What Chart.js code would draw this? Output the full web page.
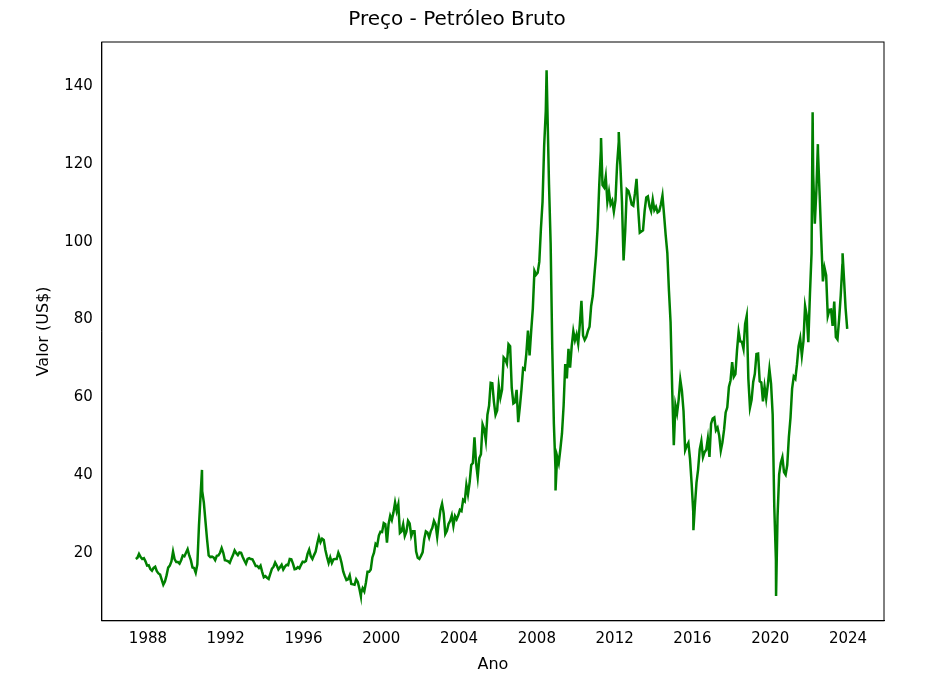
<!DOCTYPE html>
<html><head><meta charset="utf-8">
<script src="https://cdn.jsdelivr.net/npm/chart.js@4/dist/chart.umd.min.js"></script>
<style>html,body{margin:0;background:#fff}#w{width:931px;height:686px}</style>
</head><body><div id="w"><canvas id="c"></canvas></div>
<script>
const startYear = 1987, startMonth = 4; // May 1987
const monthly = [
18.6,18.9,19.9,19.1,18.6,18.8,18.0,16.9,
17.0,16.0,15.6,16.3,16.6,15.5,14.9,14.6,13.3,12.0,12.8,14.4,
16.4,16.9,18.0,20.5,18.5,17.8,17.8,17.4,18.3,19.5,19.3,20.2,
21.1,19.5,18.3,16.4,16.3,15.1,17.2,27.2,34.9,36.0,33.1,28.3,
23.6,19.5,19.1,19.2,19.0,18.3,19.4,19.5,20.2,21.4,20.2,18.3,
18.2,18.0,17.6,18.7,19.6,20.8,20.1,19.6,20.3,20.2,19.1,18.2,
17.4,18.6,18.8,18.6,18.5,17.7,16.8,16.8,16.3,16.9,15.3,13.9,
14.2,13.8,13.5,14.8,16.1,16.6,17.7,16.9,15.9,16.5,17.1,15.9,
16.6,17.1,17.0,18.6,18.5,17.4,16.0,16.1,16.5,16.2,17.1,17.9,
17.8,18.1,19.9,21.0,19.3,18.6,19.6,20.5,22.6,24.3,22.9,23.8,
23.5,20.9,19.1,17.6,19.0,17.6,18.5,18.6,18.6,20.2,19.2,17.6,
15.4,14.2,13.2,13.4,14.4,12.2,12.1,12.0,13.4,12.7,11.0,9.8,
11.1,10.3,12.5,15.3,15.3,15.9,19.0,20.2,22.5,22.1,24.6,25.6,
25.5,27.8,27.5,22.8,27.6,29.7,28.6,30.5,33.1,30.9,32.6,25.3,
25.7,27.5,24.5,25.6,28.4,27.7,24.5,25.7,25.7,20.5,18.9,18.6,
19.4,20.3,23.7,25.7,25.4,24.1,25.7,26.6,28.4,27.5,24.3,28.0,
31.2,32.8,30.3,25.0,25.8,27.6,28.4,29.8,27.1,29.6,28.8,29.8,
31.2,30.9,33.8,33.4,37.6,35.2,38.2,42.7,43.2,49.8,43.1,39.6,
44.5,45.5,53.1,51.9,49.0,55.6,57.9,63.8,63.7,58.9,55.6,56.7,
63.0,60.0,62.0,70.3,69.8,68.7,73.7,73.2,62.5,58.5,58.8,62.0,
53.7,57.6,62.1,67.5,67.2,71.3,77.2,70.8,77.1,82.8,92.5,91.5,
92.0,94.8,103.3,110.2,124.6,133.5,134.0,114.6,99.6,72.8,53.2,41.6,
44.9,43.2,46.8,50.8,57.9,68.6,64.9,72.5,67.7,73.2,77.0,74.7,
76.2,73.8,78.8,84.8,75.9,74.8,75.6,77.1,78.2,83.5,86.1,91.4,
96.5,103.7,114.6,123.3,114.5,113.9,116.7,110.2,112.8,109.6,110.5,107.7,
110.6,119.7,125.5,119.8,110.3,95.2,102.6,113.4,113.0,111.5,109.5,109.2,
112.3,116.1,108.5,102.3,102.6,102.9,107.9,111.3,111.6,109.1,107.8,110.8,
108.1,108.9,107.5,107.8,109.5,111.8,106.8,101.6,97.1,87.4,79.4,62.3,
47.8,58.1,56.0,59.5,64.6,61.7,56.5,46.5,47.6,48.4,44.3,38.0,
30.7,32.2,38.2,41.6,46.7,48.8,44.7,46.0,46.6,49.5,44.8,53.3,
54.6,54.9,51.6,52.3,50.3,46.4,48.5,51.7,56.2,57.5,62.7,64.4,
69.1,65.3,66.0,72.1,76.9,74.4,74.3,72.5,78.9,81.0,64.8,57.4,
59.4,64.0,66.1,71.2,71.3,64.2,63.9,59.0,62.8,59.7,63.2,67.3,
63.6,55.7,32.0,18.4,29.4,40.3,43.2,44.7,40.9,40.2,42.7,49.9,
54.8,62.3,65.4,64.8,68.5,73.2,75.2,70.8,74.5,83.5,81.1,74.2,
86.5,97.1,117.3,104.6,113.3,122.7,111.9,100.5,89.8,93.3,91.4,80.9,
82.5,82.6,78.4,84.6,75.5,74.9,80.1,86.2,94.0,90.6,82.9,77.6
];
const extremeDates = [1990.78,1998.95,2008.50,2008.96,2011.30,2012.21,2016.05,2020.30,2022.18,2022.45,2023.72];
const extremeValues = [41.45,9.1,143.95,36.2,126.6,128.1,26.0,9.12,133.2,125.0,97.0];
const xTicks = [1988,1992,1996,2000,2004,2008,2012,2016,2020,2024];
const yTicks = [20,40,60,80,100,120,140];

let pts = monthly.map((v,i)=>({x: startYear + (startMonth + i + 0.5)/12, y: v}));
extremeDates.forEach((d,i)=>pts.push({x:d,y:extremeValues[i]}));
pts.sort((a,b)=>a.x-b.x);

const F = "'DejaVu Sans'";
new Chart(document.getElementById('c'),{
  type:'line',
  data:{datasets:[{data:pts,borderColor:'#008000',borderWidth:2.5,pointRadius:0,tension:0}]},
  options:{
    responsive:true,maintainAspectRatio:false,animation:false,
    layout:{padding:{top:2,right:47,left:30,bottom:8}},
    plugins:{legend:{display:false},tooltip:{enabled:false},
      title:{display:true,text:'Preço - Petróleo Bruto',color:'#000',font:{family:F,size:20,weight:'normal'},padding:{top:6,bottom:10}}},
    scales:{
      x:{type:'linear',min:1985.63,max:2025.85,
        afterBuildTicks:a=>{a.ticks=xTicks.map(v=>({value:v}));},
        grid:{display:false,drawTicks:true,tickLength:6,tickColor:'#000'},
        border:{color:'#000'},
        ticks:{color:'#000',font:{family:F,size:15},maxRotation:0,padding:3,callback:v=>String(v)},
        title:{display:true,text:'Ano',color:'#000',font:{family:F,size:16},padding:{top:4}}},
      y:{min:2.75,max:151.2,
        afterBuildTicks:a=>{a.ticks=yTicks.map(v=>({value:v}));},
        grid:{display:false,drawTicks:true,tickLength:6,tickColor:'#000'},
        border:{color:'#000'},
        ticks:{color:'#000',font:{family:F,size:15},padding:3,callback:v=>String(v)},
        title:{display:true,text:'Valor (US$)',color:'#000',font:{family:F,size:16},padding:{bottom:8}}}
    }
  },
  plugins:[{id:'frame',afterDraw(c){const a=c.chartArea,x=c.ctx;x.save();x.strokeStyle='#000';x.lineWidth=1;x.strokeRect(a.left,a.top,a.right-a.left,a.bottom-a.top);x.restore();}}]
});
</script></body></html>
